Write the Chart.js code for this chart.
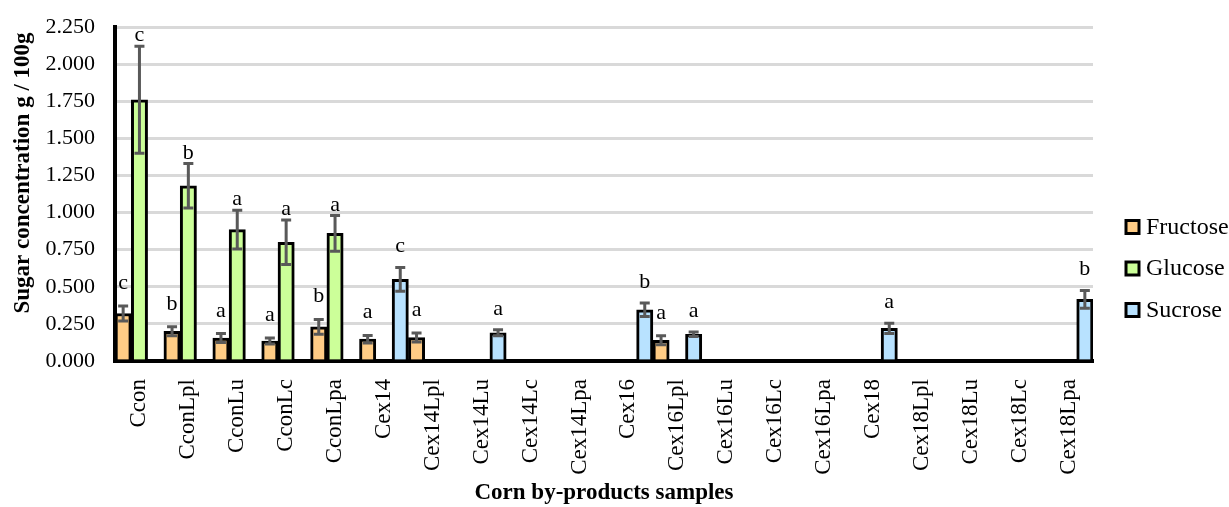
<!DOCTYPE html>
<html>
<head>
<meta charset="utf-8">
<script src="https://cdn.jsdelivr.net/npm/chart.js@4.4.1/dist/chart.umd.min.js"></script>
<style>
  html, body { margin: 0; padding: 0; background: #fff; }
  #wrap { width: 1229px; height: 507px; }
</style>
</head>
<body>
<div id="wrap"><canvas id="sugarChart"></canvas></div>
<script>
// samples on the x axis
const samples = ['Ccon', 'CconLpl', 'CconLu', 'CconLc', 'CconLpa',
  'Cex14', 'Cex14Lpl', 'Cex14Lu', 'Cex14Lc', 'Cex14Lpa',
  'Cex16', 'Cex16Lpl', 'Cex16Lu', 'Cex16Lc', 'Cex16Lpa',
  'Cex18', 'Cex18Lpl', 'Cex18Lu', 'Cex18Lc', 'Cex18Lpa'];

// g / 100g, null = not detected
const fructose = [0.32, 0.20, 0.155, 0.135, 0.23, 0.147, 0.158, null, null, null,
  null, 0.14, null, null, null, null, null, null, null, null];
const fructoseErr = [0.05, 0.03, 0.03, 0.02, 0.05, 0.025, 0.03, null, null, null,
  null, 0.03, null, null, null, null, null, null, null, null];
const fructoseLetters = ['c', 'b', 'a', 'a', 'b', 'a', 'a', '', '', '',
  '', 'a', '', '', '', '', '', '', '', ''];

const glucose = [1.76, 1.18, 0.885, 0.80, 0.86, null, null, null, null, null,
  null, null, null, null, null, null, null, null, null, null];
const glucoseErr = [0.36, 0.15, 0.13, 0.15, 0.12, null, null, null, null, null,
  null, null, null, null, null, null, null, null, null, null];
const glucoseLetters = ['c', 'b', 'a', 'a', 'a', '', '', '', '', '',
  '', '', '', '', '', '', '', '', '', ''];

const sucrose = [null, null, null, null, null, 0.55, null, 0.19, null, null,
  0.345, 0.18, null, null, null, 0.22, null, null, null, 0.415];
const sucroseErr = [null, null, null, null, null, 0.08, null, 0.02, null, null,
  0.045, 0.015, null, null, null, 0.035, null, null, null, 0.06];
const sucroseLetters = ['', '', '', '', '', 'c', '', 'a', '', '',
  'b', 'a', '', '', '', 'a', '', '', '', 'b'];

const yTicks = [0, 0.25, 0.5, 0.75, 1, 1.25, 1.5, 1.75, 2, 2.25];

const FONT = "'Liberation Serif', 'Times New Roman', serif";
Chart.defaults.font.family = FONT;
Chart.defaults.font.size = 22;
Chart.defaults.color = '#000';

// error bars + significance letters
const errorBars = {
  id: 'errorBars',
  afterDatasetsDraw(chart) {
    const ctx = chart.ctx;
    const y = chart.scales.y;
    chart.data.datasets.forEach((ds, i) => {
      const meta = chart.getDatasetMeta(i);
      meta.data.forEach((bar, j) => {
        const v = ds.data[j];
        if (v == null) return;
        const e = ds.errors[j] || 0;
        const top = y.getPixelForValue(v + e);
        const bot = y.getPixelForValue(v - e);
        ctx.save();
        ctx.strokeStyle = '#595959';
        ctx.lineWidth = 3;
        ctx.beginPath();
        ctx.moveTo(bar.x, top); ctx.lineTo(bar.x, bot);
        ctx.moveTo(bar.x - 5, top); ctx.lineTo(bar.x + 5, top);
        ctx.moveTo(bar.x - 5, bot); ctx.lineTo(bar.x + 5, bot);
        ctx.stroke();
        ctx.fillStyle = '#000';
        ctx.font = '22px ' + FONT;
        ctx.textAlign = 'center';
        ctx.textBaseline = 'alphabetic';
        ctx.fillText(ds.letters[j], bar.x, top - ds.letterGap);
        ctx.restore();
      });
    });
  }
};

// y title and legend drawn next to the chart area
const sideText = {
  id: 'sideText',
  afterDraw(chart) {
    const ctx = chart.ctx;
    const a = chart.chartArea;
    ctx.save();
    ctx.fillStyle = '#000';
    ctx.font = 'bold 23px ' + FONT;
    ctx.textAlign = 'center';
    ctx.textBaseline = 'middle';
    ctx.translate(23, (a.top + a.bottom) / 2 - 21);
    ctx.rotate(-Math.PI / 2);
    ctx.fillText('Sugar concentration g / 100g', 0, 0);
    ctx.restore();

    ctx.save();
    ctx.font = '24px ' + FONT;
    ctx.textBaseline = 'middle';
    const midY = (a.top + a.bottom) / 2 + 75;
    chart.data.datasets.forEach((ds, i) => {
      const cy = midY + (i - 1) * 41.5;
      const bx = a.right + 33;
      ctx.fillStyle = ds.backgroundColor;
      ctx.fillRect(bx, cy - 7, 13, 13);
      ctx.strokeStyle = '#000';
      ctx.lineWidth = 3;
      ctx.strokeRect(bx, cy - 7, 13, 13);
      ctx.fillStyle = '#000';
      ctx.textAlign = 'left';
      ctx.fillText(ds.label, bx + 20, cy);
    });
    ctx.restore();
  }
};

const ctx = document.getElementById('sugarChart').getContext('2d');
window.myChart = new Chart(ctx, {
  type: 'bar',
  data: {
    labels: samples,
    datasets: [
      { label: 'Fructose', data: fructose, errors: fructoseErr, letters: fructoseLetters, letterGap: 17,
        backgroundColor: '#FFCC85', borderColor: '#000', borderWidth: 3 },
      { label: 'Glucose', data: glucose, errors: glucoseErr, letters: glucoseLetters, letterGap: 5,
        backgroundColor: '#CCFF99', borderColor: '#000', borderWidth: 3 },
      { label: 'Sucrose', data: sucrose, errors: sucroseErr, letters: sucroseLetters, letterGap: 15,
        backgroundColor: '#B8E2FF', borderColor: '#000', borderWidth: 3 }
    ]
  },
  options: {
    responsive: true, maintainAspectRatio: false, animation: false,
    categoryPercentage: 1, barPercentage: 1,
    layout: { padding: { top: 27, right: 136, bottom: 0, left: 0 } },
    plugins: {
      tooltip: { enabled: false },
      legend: { display: false }
    },
    scales: {
      x: {
        grid: { display: false },
        border: { color: '#000', width: 4 },
        ticks: { autoSkip: false, maxRotation: 90, minRotation: 90, padding: 10, font: { size: 23 } },
        title: { display: true, text: 'Corn by-products samples',
          font: { weight: 'bold', size: 23 }, padding: { top: 0, bottom: 0 } },
        afterFit: axis => { axis.height = 146; }
      },
      y: {
        min: 0, max: 2.25,
        afterBuildTicks: axis => { axis.ticks = yTicks.map(v => ({ value: v })); },
        ticks: { callback: v => v.toFixed(3), padding: 20 },
        grid: { color: '#D9D9D9', lineWidth: 3, drawTicks: false },
        border: { color: '#000', width: 4 },
        afterFit: axis => { axis.width = 115; axis.paddingTop = 0; axis.paddingBottom = 0; }
      }
    }
  },
  plugins: [errorBars, sideText]
});
</script>
</body>
</html>
